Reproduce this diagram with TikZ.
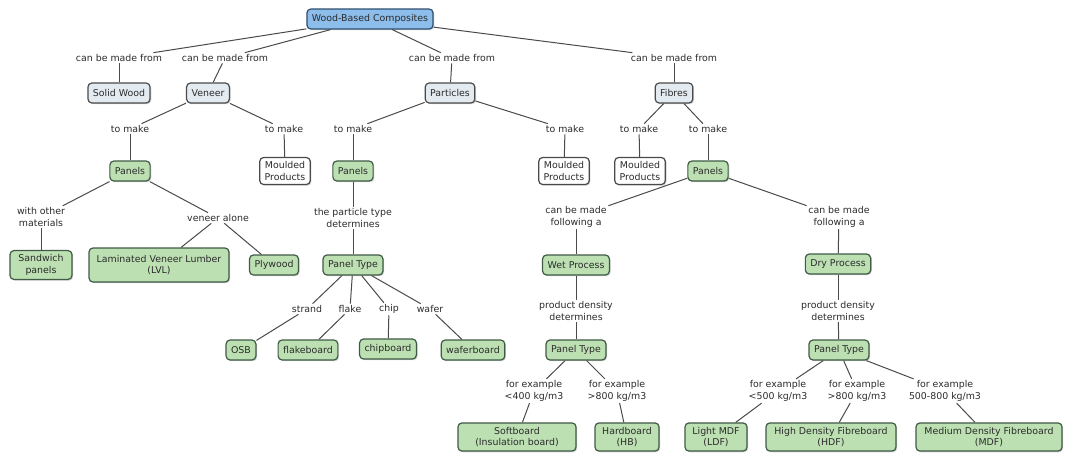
\documentclass[tikz,border=0pt]{standalone}
\usepackage{fontspec}
\setmainfont{DejaVu Sans}
\usetikzlibrary{shadows}
\definecolor{rootfill}{HTML}{8CBDEB}
\definecolor{rootline}{HTML}{2F4F6F}
\definecolor{srcfill}{HTML}{E3EBF1}
\definecolor{boxline}{HTML}{4A4A4A}
\definecolor{panelfill}{HTML}{BDE0B3}
\definecolor{panelline}{HTML}{3F5A45}
\definecolor{inktext}{HTML}{2B2B2B}
\begin{document}
\begin{tikzpicture}[x=1pt,y=-1pt,
	every node/.style={font=\fontsize{9.4}{11.8}\selectfont,text=inktext,align=center},
	concept/.style={rounded corners=4pt,line width=1.2pt,inner xsep=5pt,inner ysep=4pt,minimum height=20pt,
		drop shadow={shadow xshift=1.2pt,shadow yshift=-1.2pt,opacity=0.35}},
	rootbox/.style={concept,draw=rootline,fill=rootfill},
	srcbox/.style={concept,draw=boxline,fill=srcfill},
	whitebox/.style={concept,draw=boxline,fill=white},
	greenbox/.style={concept,draw=panelline,fill=panelfill},
	linklabel/.style={inner sep=1.5pt},
	link/.style={draw=boxline,line width=1pt}]
	\useasboundingbox (0,0) rectangle (1077,456);
	\node[rootbox] (wbc) at (370,19) {Wood-Based Composites};
	\node[linklabel] (cbm1) at (119,58) {can be made from};
	\node[linklabel] (cbm2) at (225,58) {can be made from};
	\node[linklabel] (cbm3) at (452,58) {can be made from};
	\node[linklabel] (cbm4) at (674,58) {can be made from};
	\node[srcbox] (solid) at (119,93) {Solid Wood};
	\node[srcbox] (veneer) at (208,93) {Veneer};
	\node[srcbox] (particles) at (450,93) {Particles};
	\node[srcbox] (fibres) at (674,93) {Fibres};
	\node[linklabel] (tm1) at (130,129) {to make};
	\node[linklabel] (tm2) at (284,129) {to make};
	\node[linklabel] (tm3) at (353,129) {to make};
	\node[linklabel] (tm4) at (565,129) {to make};
	\node[linklabel] (tm5) at (639,129) {to make};
	\node[linklabel] (tm6) at (708,129) {to make};
	\node[greenbox] (vpanels) at (130,171) {Panels};
	\node[whitebox] (vmoulded) at (285,171) {Moulded\\Products};
	\node[greenbox] (ppanels) at (353,171) {Panels};
	\node[whitebox] (pmoulded) at (564,171) {Moulded\\Products};
	\node[whitebox] (fmoulded) at (640,171) {Moulded\\Products};
	\node[greenbox] (fpanels) at (708,171) {Panels};
	\node[linklabel] (withother) at (41,217) {with other\\materials};
	\node[linklabel] (alone) at (218,218) {veneer alone};
	\node[linklabel] (ptdet) at (353,218) {the particle type\\determines};
	\node[linklabel] (cbf1) at (576,217) {can be made\\following a};
	\node[linklabel] (cbf2) at (839,217) {can be made\\following a};
	\node[greenbox,minimum width=62pt] (sandwich) at (41,265) {Sandwich\\panels};
	\node[greenbox,minimum width=140pt,minimum height=34pt] (lvl) at (159,265) {Laminated Veneer Lumber\\(LVL)};
	\node[greenbox] (plywood) at (274,265) {Plywood};
	\node[greenbox] (ptype) at (353,265) {Panel Type};
	\node[greenbox] (wet) at (576,265) {Wet Process};
	\node[greenbox] (dry) at (838,264) {Dry Process};
	\node[linklabel] (strand) at (307,309) {strand};
	\node[linklabel] (flake) at (350,309) {flake};
	\node[linklabel] (chip) at (389,309) {chip};
	\node[linklabel] (wafer) at (430,309) {wafer};
	\node[greenbox] (osb) at (241,350) {OSB};
	\node[greenbox] (flakeboard) at (308,350) {flakeboard};
	\node[greenbox] (chipboard) at (388,349) {chipboard};
	\node[greenbox] (waferboard) at (473,350) {waferboard};
	\node[linklabel] (wdens) at (576,311) {product density\\determines};
	\node[linklabel] (ddens) at (838,311) {product density\\determines};
	\node[greenbox] (wtype) at (576,350) {Panel Type};
	\node[greenbox] (dtype) at (839,350) {Panel Type};
	\node[linklabel] (fe1) at (534,391) {for example\\<400 kg/m3};
	\node[linklabel] (fe2) at (617,391) {for example\\>800 kg/m3};
	\node[linklabel] (fe3) at (778,391) {for example\\<500 kg/m3};
	\node[linklabel] (fe4) at (857,391) {for example\\>800 kg/m3};
	\node[linklabel] (fe5) at (945,391) {for example\\500-800 kg/m3};
	\node[greenbox,minimum width=118pt] (soft) at (517,437) {Softboard\\(Insulation board)};
	\node[greenbox,minimum width=64pt] (hard) at (627,437) {Hardboard\\(HB)};
	\node[greenbox,minimum width=62pt] (ldf) at (716,437) {Light MDF\\(LDF)};
	\node[greenbox,minimum width=130pt] (hdf) at (831,437) {High Density Fibreboard\\(HDF)};
	\node[greenbox,minimum width=146pt] (mdf) at (989,437) {Medium Density Fibreboard\\(MDF)};
	\foreach \a/\b in {wbc/cbm1,wbc/cbm2,wbc/cbm3,wbc/cbm4,cbm1/solid,cbm2/veneer,cbm3/particles,cbm4/fibres,
		veneer/tm1,veneer/tm2,particles/tm3,particles/tm4,fibres/tm5,fibres/tm6,
		tm1/vpanels,tm2/vmoulded,tm3/ppanels,tm4/pmoulded,tm5/fmoulded,tm6/fpanels,
		vpanels/withother,vpanels/alone,withother/sandwich,alone/lvl,alone/plywood,ppanels/ptdet,ptdet/ptype,
		ptype/strand,ptype/flake,ptype/chip,ptype/wafer,strand/osb,flake/flakeboard,chip/chipboard,wafer/waferboard,
		fpanels/cbf1,fpanels/cbf2,cbf1/wet,cbf2/dry,wet/wdens,dry/ddens,wdens/wtype,ddens/dtype,
		wtype/fe1,wtype/fe2,dtype/fe3,dtype/fe4,dtype/fe5,fe1/soft,fe2/hard,fe3/ldf,fe4/hdf,fe5/mdf}
		\draw[link] (\a) -- (\b);
\end{tikzpicture}
\end{document}
